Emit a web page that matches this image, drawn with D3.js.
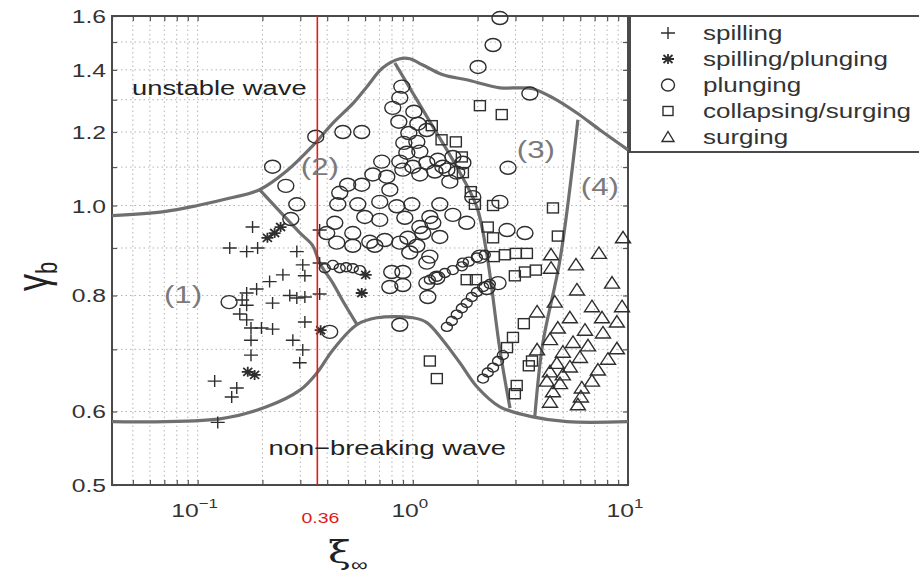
<!DOCTYPE html>
<html><head><meta charset="utf-8">
<script src="https://cdn.jsdelivr.net/npm/d3@7"></script>
<style>body{margin:0;background:#fff}svg{display:block}text{font-family:"Liberation Sans",Arial,Helvetica,sans-serif}</style>
</head><body><svg id="c" width="919" height="581"></svg>
<script>
// ---- data (xi_inf, gamma_b) ----
const xTicks = [0.1, 1, 10];
const xTickExp = ["\u22121", "0", "1"];
const yTicks = [0.5, 0.6, 0.8, 1.0, 1.2, 1.4, 1.6];
const yTickLabels = ["0.5", "0.6", "0.8", "1.0", "1.2", "1.4", "1.6"];
const refXi = 0.36;
const legendLabels = ["spilling", "spilling/plunging", "plunging", "collapsing/surging", "surging"];

const spilling = [[0.180,0.948],[0.141,0.900],[0.169,0.892],[0.190,0.900],[0.289,0.892],[0.249,0.842],[0.315,0.840],[0.216,0.828],[0.188,0.813],[0.169,0.805],[0.289,0.795],[0.315,0.797],[0.369,0.803],[0.161,0.791],[0.169,0.781],[0.223,0.785],[0.157,0.764],[0.169,0.753],[0.177,0.738],[0.198,0.738],[0.223,0.736],[0.315,0.749],[0.177,0.716],[0.277,0.716],[0.308,0.699],[0.177,0.690],[0.298,0.677],[0.120,0.647],[0.152,0.636],[0.144,0.622],[0.124,0.584],[0.369,0.867],[0.369,0.941],[0.268,0.800],[0.308,0.863]];
const spillingPlunging = [[0.211,0.923],[0.228,0.934],[0.243,0.948],[0.171,0.662],[0.184,0.657],[0.373,0.734],[0.604,0.842],[0.579,0.805]];
const plungingLarge = [[2.54,1.592],[2.36,1.489],[2.01,1.41],[3.50,1.320],[0.223,1.101],[0.257,1.050],[0.289,1.003],[0.271,0.967],[0.354,1.186],[0.473,1.200],[0.579,1.200],[0.140,0.787],[0.870,0.744],[2.77,1.098],[0.411,0.731],[0.889,1.343],[0.870,1.306],[0.807,1.274],[1.011,1.262],[0.861,1.231],[1.055,1.225],[0.958,1.197],[1.162,1.206],[0.908,1.168],[1.044,1.171],[0.938,1.140],[1.078,1.143],[0.717,1.115],[0.870,1.115],[1.0,1.101],[1.162,1.112],[1.307,1.120],[0.652,1.080],[0.757,1.074],[0.899,1.093],[1.078,1.080],[1.266,1.088],[1.44,1.093],[0.498,1.053],[0.579,1.053],[0.782,1.040],[0.4575,1.032],[0.702,1.009],[0.448,1.003],[0.555,1.003],[0.842,0.998],[0.989,1.003],[1.335,1.003],[0.598,0.972],[0.702,0.965],[0.918,0.970],[0.434,0.958],[0.526,0.934],[0.631,0.914],[0.741,0.918],[0.948,0.923],[1.113,0.934],[1.239,0.958],[1.335,0.925],[1.078,0.948],[1.60,1.085],[1.535,1.128],[1.379,1.101],[1.709,1.112],[1.20,0.972],[1.535,0.977],[0.398,0.934],[0.870,0.912],[0.968,0.890],[1.20,0.881],[0.443,0.912],[0.526,0.905],[0.666,0.905],[1.044,0.905],[1.162,0.868],[0.798,0.848],[0.899,0.848],[0.782,0.817],[0.899,0.821],[1.162,0.825],[1.174,0.797],[1.293,0.836],[2.74,0.941],[2.54,1.009],[1.90,1.021],[3.32,0.934],[1.486,1.061],[1.78,0.958],[2.05,0.881],[2.49,0.825],[2.21,0.815]];
const plungingSmall = [[1.44,0.740],[1.518,0.751],[1.60,0.763],[1.69,0.775],[1.78,0.785],[1.88,0.797],[1.985,0.807],[2.12,0.817],[2.28,0.823],[2.12,0.651],[2.23,0.661],[2.36,0.669],[2.49,0.680],[2.62,0.690],[1.20,0.832],[1.293,0.838],[1.409,0.846],[1.535,0.852],[1.69,0.860],[1.82,0.870],[1.985,0.879],[2.16,0.885],[0.4575,0.856],[0.490,0.858],[0.526,0.856],[0.567,0.852],[1.709,0.868],[0.390,0.856],[0.425,0.863]];
const collapsingSurging = [[2.05,1.281],[2.59,1.253],[1.225,1.219],[1.36,1.177],[1.585,1.171],[1.69,1.128],[1.709,1.085],[1.86,1.035],[1.943,1.003],[2.36,1.0],[2.23,0.948],[2.36,0.923],[4.48,0.994],[4.72,0.927],[2.38,0.881],[2.68,0.885],[3.01,0.888],[3.39,0.888],[2.98,0.840],[3.32,0.848],[3.73,0.852],[1.78,0.832],[1.965,0.832],[3.28,0.746],[2.92,0.721],[2.74,0.703],[3.58,0.680],[3.46,0.672],[3.04,0.640],[2.98,0.627],[1.20,0.680],[1.293,0.651]];
const surging = [[9.48,0.923],[7.33,0.888],[5.73,0.863],[4.39,0.885],[4.39,0.856],[8.43,0.825],[5.79,0.811],[4.57,0.787],[3.78,0.768],[6.80,0.778],[9.38,0.778],[7.57,0.757],[5.37,0.757],[8.88,0.749],[4.72,0.738],[6.31,0.734],[4.34,0.717],[5.55,0.712],[6.52,0.706],[7.65,0.729],[8.88,0.701],[4.98,0.695],[5.98,0.686],[4.67,0.676],[5.37,0.670],[8.07,0.683],[4.34,0.662],[4.98,0.657],[7.25,0.665],[4.20,0.647],[4.83,0.643],[6.80,0.647],[4.48,0.630],[6.10,0.636],[4.34,0.614],[6.04,0.622],[5.85,0.610],[3.78,0.699]];

// boundary curves
const upperBound = [[0.04,0.975],[0.07,0.985],[0.1,1.0],[0.14,1.018],[0.194,1.04],[0.26,1.09],[0.343,1.16],[0.425,1.227],[0.53,1.29],[0.611,1.342],[0.725,1.407],[0.87,1.439],[0.968,1.439],[1.113,1.417],[1.379,1.383],[1.78,1.366],[2.54,1.339],[3.15,1.339],[3.61,1.336],[4.48,1.306],[5.79,1.258],[7.41,1.206],[10,1.148]];
const lowerBound = [[0.04,0.585],[0.127,0.589],[0.209,0.607],[0.30,0.633],[0.358,0.660],[0.425,0.699],[0.549,0.744],[0.68,0.757],[1.0,0.757],[1.162,0.748],[1.379,0.716],[1.654,0.677],[1.985,0.638],[2.54,0.607],[3.61,0.592],[5.2,0.585],[10,0.585]];
const border12 = [[0.194,1.04],[0.298,0.935],[0.343,0.905],[0.369,0.867],[0.425,0.825],[0.47,0.791],[0.549,0.745]];
const border23 = [[0.825,1.424],[1.239,1.216],[1.602,1.10],[1.985,0.996],[2.21,0.885],[2.54,0.699],[2.83,0.605]];
const border34 = [[5.85,1.237],[4.83,0.874],[4.02,0.711],[3.69,0.593]];

const regionLabels = [
  {t:"(1)", x:0.0855, y:0.80},
  {t:"(2)", x:0.37, y:1.10},
  {t:"(3)", x:3.73, y:1.148},
  {t:"(4)", x:7.4, y:1.048}
];
const zoneLabels = [
  {t:"unstable wave", x:0.0496, y:1.315, a:"start"},
  {t:"non\u2212breaking wave", x:0.761, y:0.538, a:"middle"}
];

// ---- layout ----
const L = 112, R = 628, T = 16, B = 485;
const SX = 1.3; // horizontal text stretch
const svg = d3.select("#c");
const x = d3.scaleLog().domain([0.04, 10]).range([L, R]);
const y = d3.scaleLog().domain([0.5, 1.6]).range([B, T]);

function txt(g, px, py, s, size, anchor, fill) {
  return g.append("text").attr("transform", `translate(${px},${py}) scale(${SX},1)`)
    .attr("font-size", size).attr("text-anchor", anchor || "start")
    .attr("fill", fill || "#222").text(s);
}

// grid
const xMinor = [];
[0.01, 0.1, 1].forEach(d => { for (let k = 1; k <= 9; k++) { const v = +(k * d).toPrecision(3); if (v >= 0.04 && v <= 10) xMinor.push(v); } });
xMinor.push(10);
const yMinor = d3.range(5, 17).map(k => k / 10);
const grid = svg.append("g").attr("stroke", "#b3b3b3").attr("stroke-width", 1).attr("stroke-dasharray", "1.5,3");
grid.selectAll(".gx").data(xMinor).join("line").attr("x1", d => x(d)).attr("x2", d => x(d)).attr("y1", T).attr("y2", B);
grid.selectAll(".gy").data(yMinor).join("line").attr("y1", d => y(d)).attr("y2", d => y(d)).attr("x1", L).attr("x2", R);

// axes with inward ticks
const axB = d3.axisBottom(x).tickValues(xMinor).tickSize(-5).tickFormat("");
const axT = d3.axisTop(x).tickValues(xMinor).tickSize(-5).tickFormat("");
const axLf = d3.axisLeft(y).tickValues(yMinor).tickSize(-5).tickFormat("");
const axRt = d3.axisRight(y).tickValues(yMinor).tickSize(-5).tickFormat("");
[[axB, `translate(0,${B})`], [axT, `translate(0,${T})`], [axLf, `translate(${L},0)`], [axRt, `translate(${R},0)`]].forEach(([a, tr]) => {
  const g = svg.append("g").attr("transform", tr).call(a);
  g.select(".domain").remove();
  g.selectAll("line").attr("stroke", "#555").attr("stroke-width", 1.2);
});
svg.append("rect").attr("x", L).attr("y", T).attr("width", R - L).attr("height", B - T)
  .attr("fill", "none").attr("stroke", "#4a4a4a").attr("stroke-width", 2);

// tick labels
const tl = svg.append("g");
yTicks.forEach((v, i) => txt(tl, L - 6, y(v) + 7, yTickLabels[i], 19, "end", "#333"));
xTicks.forEach((v, i) => {
  const t = tl.append("text").attr("transform", `translate(${x(v) - 3},${B + 32}) scale(${SX},1)`)
    .attr("font-size", 19).attr("text-anchor", "middle").attr("fill", "#333");
  t.append("tspan").text("10");
  t.append("tspan").attr("font-size", 13).attr("dy", -9).text(xTickExp[i]);
});

// boundary curves
const line = d3.line().x(d => x(d[0])).y(d => y(d[1])).curve(d3.curveCatmullRom.alpha(0.5));
const cg = svg.append("g").attr("fill", "none").attr("stroke", "#6f6f6f").attr("stroke-width", 3.2).attr("stroke-linejoin", "round");
[upperBound, lowerBound, border12, border23, border34].forEach(d => cg.append("path").attr("d", line(d)));

// markers
const mk = svg.append("g").attr("fill", "none").attr("stroke", "#2e2e2e").attr("stroke-width", 1.4);
const plusPath = "M-7,0H7M0,-6V6";
const starPath = "M-6,0H6M0,-5V5M-4.5,-4L4.5,4M-4.5,4L4.5,-4";
const triPath = "M0,-6.5L7.5,5L-7.5,5Z";
mk.selectAll(".sp").data(spilling).join("path").attr("d", plusPath).attr("transform", d => `translate(${x(d[0])},${y(d[1])})`);
mk.selectAll(".spp").data(spillingPlunging).join("path").attr("d", starPath).attr("stroke-width", 1.8).attr("transform", d => `translate(${x(d[0])},${y(d[1])})`);
mk.selectAll(".pl").data(plungingLarge).join("ellipse").attr("cx", d => x(d[0])).attr("cy", d => y(d[1])).attr("rx", 8).attr("ry", 6.5);
mk.selectAll(".ps").data(plungingSmall).join("ellipse").attr("cx", d => x(d[0])).attr("cy", d => y(d[1])).attr("rx", 5.5).attr("ry", 4.5);
mk.selectAll(".cs").data(collapsingSurging).join("rect").attr("x", d => x(d[0]) - 5.5).attr("y", d => y(d[1]) - 5).attr("width", 11).attr("height", 10);
mk.selectAll(".su").data(surging).join("path").attr("d", triPath).attr("transform", d => `translate(${x(d[0])},${y(d[1])})`);

// red reference line
svg.append("line").attr("x1", x(refXi)).attr("x2", x(refXi)).attr("y1", T).attr("y2", B)
  .attr("stroke", "#e01b1b").attr("stroke-width", 1.6);
txt(svg, x(refXi) + 3, B + 38, "0.36", 15, "middle", "#e01b1b");

// labels in the plot
regionLabels.forEach(r => txt(svg, x(r.x), y(r.y) + 8, r.t, 24, "middle", "#7a7a7a"));
zoneLabels.forEach(r => txt(svg, x(r.x), y(r.y), r.t, 21, r.a, "#222"));

// axis titles
const xl = svg.append("text").attr("transform", `translate(328,563) scale(${SX},1)`).attr("fill", "#222");
xl.append("tspan").attr("font-size", 32).attr("font-family", "DejaVu Serif, serif").text("\u03be");
xl.append("tspan").attr("font-size", 18).attr("dy", 8).text("\u221e");
const yl = svg.append("text").attr("transform", `translate(48,291) rotate(-90) scale(1,${SX})`).attr("fill", "#222");
yl.append("tspan").attr("font-size", 34).text("\u03b3");
yl.append("tspan").attr("font-size", 22).attr("dy", 7).text("b");

// legend
const lg = svg.append("g");
lg.append("rect").attr("x", 630).attr("y", T).attr("width", 300).attr("height", 136)
  .attr("fill", "#fff").attr("stroke", "#4a4a4a").attr("stroke-width", 2);
const rowY = d3.scaleLinear().domain([0, 4]).range([33, 137]);
const lm = lg.append("g").attr("fill", "none").attr("stroke", "#2e2e2e").attr("stroke-width", 1.4);
lm.append("path").attr("d", plusPath).attr("transform", `translate(668,${rowY(0)})`);
lm.append("path").attr("d", starPath).attr("stroke-width", 1.8).attr("transform", `translate(668,${rowY(1)})`);
lm.append("ellipse").attr("cx", 668).attr("cy", rowY(2)).attr("rx", 6.5).attr("ry", 6);
lm.append("rect").attr("x", 663).attr("y", rowY(3) - 4.5).attr("width", 10).attr("height", 9);
lm.append("path").attr("d", "M0,-5.5L6,4.5L-6,4.5Z").attr("transform", `translate(668,${rowY(4)})`);
legendLabels.forEach((s, i) => txt(lg, 703, rowY(i) + 7, s, 20, "start", "#333"));
</script></body></html>
